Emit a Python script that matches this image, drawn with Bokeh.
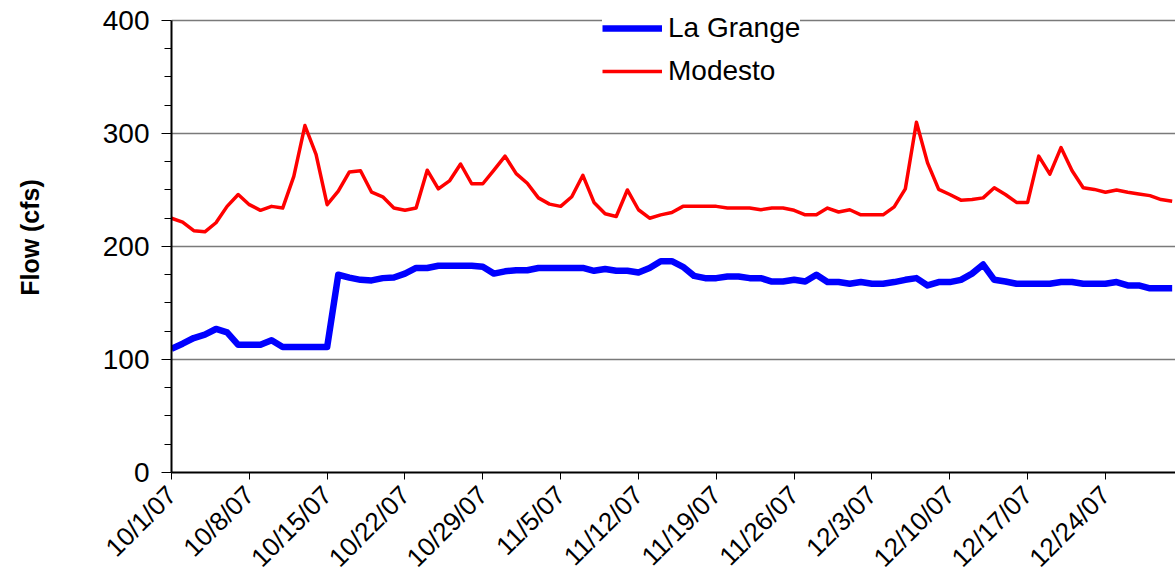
import math
from bokeh.plotting import figure
from bokeh.models import Range1d, FixedTicker, Legend, LegendItem
from bokeh.embed import file_html
from bokeh.resources import INLINE

# Daily flows, 10/1/07 .. 12/30/07
la_grange = [109.5, 114, 119, 122, 127, 124, 113, 113, 113, 117, 111, 111, 111, 111, 111,
             175, 172.5, 170.5, 170, 172, 172.5, 176, 181, 181, 183, 183, 183, 183, 182,
             176, 178, 179, 179, 181, 181, 181, 181, 181, 178.5, 180, 178.5, 178.5, 177,
             181, 187, 187, 182, 174, 172, 172, 173.5, 173.5, 172, 172, 169, 169, 170.5,
             169, 175, 168.5, 168.5, 167, 168.5, 167, 167, 168.5, 170.5, 172, 165.5, 168.5,
             168.5, 170.5, 176, 184, 170.5, 169, 167, 167, 167, 167, 168.5, 168.5, 167, 167,
             167, 168.5, 165.5, 165.5, 163, 163, 163]
modesto = [225, 221.5, 214, 213, 221, 235.5, 246, 237, 232, 235.5, 234, 262, 307, 281.5,
           237, 249, 266, 267, 248, 244, 234, 232, 234, 267.5, 251, 258, 273, 255.5, 255.5,
           267.5, 280, 264.5, 256, 243, 237.5, 235.5, 244, 263, 239, 229, 226.5, 250, 232.5,
           225, 228, 230, 235.5, 235.5, 235.5, 235.5, 234, 234, 234, 232.5, 234, 234, 232,
           228, 228, 234, 230.5, 232.5, 228, 228, 228, 235, 251, 310, 274, 250.5, 246, 241,
           241.5, 243, 252, 246, 239, 239, 280, 264, 287.5, 267, 252, 250.5, 248, 250, 248,
           246.5, 245, 241.5, 240]
days = list(range(len(modesto)))
tick_days = [0, 7, 14, 21, 28, 35, 42, 49, 56, 63, 70, 77, 84]
tick_labels = ["10/1/07", "10/8/07", "10/15/07", "10/22/07", "10/29/07", "11/5/07",
               "11/12/07", "11/19/07", "11/26/07", "12/3/07", "12/10/07", "12/17/07",
               "12/24/07"]
y_ticks = [0, 100, 200, 300, 400]
y_minor = [25, 50, 75, 125, 150, 175, 225, 250, 275, 325, 350, 375]

FONT = "Liberation Sans"

# frame spans 2..472 px vertically; 400 sits at 20 px, leaving room for the legend
p = figure(width=1175, height=586, output_backend="svg", toolbar_location=None,
           x_range=Range1d(0, 90.3), y_range=Range1d(0, 415.9),
           min_border_left=171, min_border_right=0, min_border_top=2,
           min_border_bottom=114)
p.outline_line_color = None
p.background_fill_color = "white"
p.border_fill_color = "white"

r_blue = p.line(days, la_grange, line_color="#0000FF", line_width=6.5, line_join="round")
r_red = p.line(days, modesto, line_color="#FF0000", line_width=3.5, line_join="round")

p.xgrid.grid_line_color = None
p.ygrid.grid_line_color = "#7a7a7a"
p.ygrid.grid_line_width = 1.6
p.ygrid.ticker = FixedTicker(ticks=y_ticks)

ya = p.yaxis[0]
ya.ticker = FixedTicker(ticks=y_ticks, minor_ticks=y_minor)
ya.bounds = (0, 400)
ya.axis_line_color = "black"
ya.axis_line_width = 2
ya.major_tick_in = 0
ya.major_tick_out = 10
ya.minor_tick_in = 0
ya.minor_tick_out = 7
ya.major_tick_line_color = "black"
ya.minor_tick_line_color = "black"
ya.major_label_text_font = FONT
ya.major_label_text_font_size = "28px"
ya.major_label_text_color = "black"
ya.major_label_standoff = 12
ya.axis_label = "Flow (cfs)"
ya.axis_label_text_font = FONT
ya.axis_label_text_font_style = "bold"
ya.axis_label_text_font_size = "25px"
ya.axis_label_text_color = "black"
ya.axis_label_standoff = 56

xa = p.xaxis[0]
xa.ticker = FixedTicker(ticks=tick_days)
xa.major_label_overrides = {d: lab for d, lab in zip(tick_days, tick_labels)}
xa.axis_line_color = "black"
xa.axis_line_width = 2
xa.major_tick_in = 0
xa.major_tick_out = 7
xa.minor_tick_line_color = None
xa.major_tick_line_color = "black"
xa.major_label_text_font = FONT
xa.major_label_text_font_size = "26px"
xa.major_label_text_color = "black"
xa.major_label_orientation = math.pi / 4
xa.major_label_standoff = 11

legend = Legend(items=[LegendItem(label="La Grange", renderers=[r_blue]),
                       LegendItem(label="Modesto", renderers=[r_red])],
                location=(431, 384))
legend.background_fill_color = "white"
legend.background_fill_alpha = 1
legend.border_line_color = None
legend.label_text_font = FONT
legend.label_text_font_size = "28px"
legend.label_text_color = "black"
legend.glyph_width = 60
legend.glyph_height = 34
legend.label_standoff = 6
legend.spacing = 9
legend.padding = 8
legend.margin = 0
p.add_layout(legend, "center")

open("out.html", "w").write(file_html(p, INLINE))
